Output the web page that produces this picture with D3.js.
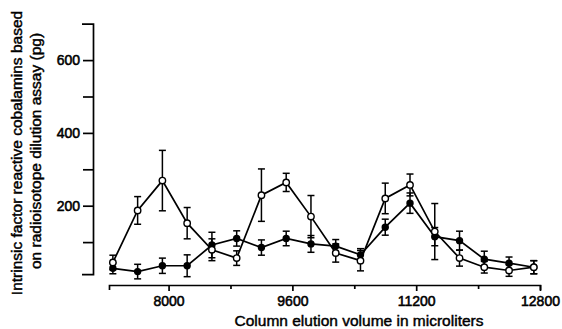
<!DOCTYPE html>
<html>
<head>
<meta charset="utf-8">
<script src="https://cdn.jsdelivr.net/npm/d3@7/dist/d3.min.js"></script>
<style>
  html, body { margin: 0; padding: 0; background: #fff; }
  svg { display: block; font-family: 'Liberation Sans', Arial, sans-serif; }
  .axis path, .axis line { stroke: #000; stroke-width: 1.7; }
  .axis text { font-size: 14px; fill: #000; stroke: #000; stroke-width: 0.55; }
  .label-text { font-size: 15.5px; fill: #000; stroke: #000; stroke-width: 0.45; }
</style>
</head>
<body>
<div id="chart"></div>
<script>
// elution volume (microliters) of each fraction
const volumes = [7280, 7600, 7920, 8240, 8560, 8880, 9200, 9520, 9840,
  10160, 10480, 10800, 11120, 11440, 11760, 12080, 12400, 12720];

// open circles
const openValues = [44, 187, 269, 152, 79, 56, 229, 264, 170,
  70, 49, 220, 257, 129, 56, 31, 22, 31];
const openErrors = [20, 38, 83, 43, 30, 20, 72, 25, 58,
  25, 28, 42, 30, 77, 22, 16, 16, 18];

// filled circles
const filledValues = [28, 19, 35, 35, 92, 110, 85, 110, 95,
  89, 65, 141, 207, 115, 104, 53, 42, 31];
const filledErrors = [15, 20, 21, 30, 35, 21, 21, 20, 23,
  18, 17, 22, 28, 25, 26, 22, 17, 18];

const xTicks = [8000, 8800, 9600, 10400, 11200, 12000, 12800];
const xTickLabels = ['8000', '', '9600', '', '11200', '', '12800'];
const yTicks = [100, 200, 300, 400, 500, 600];
const yTickLabels = ['', '200', '', '400', '', '600'];

const width = 562;
const height = 329;

const svg = d3.select('#chart')
  .append('svg')
  .attr('width', width)
  .attr('height', height)
  .attr('viewBox', `0 0 ${width} ${height}`);

// scales
const xScale = d3.scaleLinear().domain([7230, 12800]).range([109, 540]);
const yScale = d3.scaleLinear().domain([0, 700]).range([278.5, 23.7]);
const yAxisScale = d3.scaleLinear().domain([12, 700]).range([yScale(12), yScale(700)]);

// axes
const xAxis = d3.axisBottom(xScale)
  .tickValues(xTicks)
  .tickSize(6)
  .tickSizeOuter(5)
  .tickPadding(5)
  .tickFormat((d, i) => xTickLabels[i]);

const yAxis = d3.axisLeft(yAxisScale)
  .tickValues(yTicks)
  .tickSize(10)
  .tickSizeOuter(11)
  .tickPadding(3)
  .tickFormat((d, i) => yTickLabels[i]);

const xAxisEl = svg.append('g')
  .attr('class', 'x axis')
  .attr('transform', 'translate(0,285)')
  .call(xAxis);

xAxisEl.selectAll('.tick')
  .filter((d, i) => xTickLabels[i] === '')
  .select('line')
  .attr('y2', 4);

const yAxisEl = svg.append('g')
  .attr('class', 'y axis')
  .attr('transform', 'translate(93,0)')
  .call(yAxis);

// axis titles
svg.append('text')
  .attr('class', 'label-text')
  .attr('x', 359)
  .attr('y', 326)
  .style('text-anchor', 'middle')
  .text('Column elution volume in microliters');

svg.append('text')
  .attr('class', 'label-text')
  .attr('transform', 'translate(22,153) rotate(-90)')
  .style('text-anchor', 'middle')
  .text('Intrinsic factor reactive cobalamins based');

svg.append('text')
  .attr('class', 'label-text')
  .attr('transform', 'translate(41,151) rotate(-90)')
  .style('text-anchor', 'middle')
  .text('on radioisotope dilution assay (pg)');

// series
function plotSeries(values, errors, filled) {
  const data = volumes.map((v, i) => ({ x: v, y: values[i], e: errors[i] }));
  const g = svg.append('g').attr('class', 'series');

  const line = d3.line()
    .x(d => xScale(d.x))
    .y(d => yScale(d.y));

  g.append('path')
    .attr('d', line(data))
    .attr('fill', 'none')
    .attr('stroke', '#000')
    .attr('stroke-width', 1.7);

  const bars = g.selectAll('g.err')
    .data(data)
    .enter()
    .append('g')
    .attr('class', 'err')
    .attr('stroke', '#000')
    .attr('stroke-width', 1.5);

  bars.append('line')
    .attr('x1', d => xScale(d.x))
    .attr('x2', d => xScale(d.x))
    .attr('y1', d => yScale(d.y - d.e))
    .attr('y2', d => yScale(d.y + d.e));

  bars.append('line')
    .attr('x1', d => xScale(d.x) - 3.5)
    .attr('x2', d => xScale(d.x) + 3.5)
    .attr('y1', d => yScale(d.y + d.e))
    .attr('y2', d => yScale(d.y + d.e));

  bars.append('line')
    .attr('x1', d => xScale(d.x) - 3.5)
    .attr('x2', d => xScale(d.x) + 3.5)
    .attr('y1', d => yScale(d.y - d.e))
    .attr('y2', d => yScale(d.y - d.e));

  g.selectAll('circle')
    .data(data)
    .enter()
    .append('circle')
    .attr('cx', d => xScale(d.x))
    .attr('cy', d => yScale(d.y))
    .attr('r', filled ? 3 : 3.2)
    .attr('fill', filled ? '#000' : '#fff')
    .attr('stroke', '#000')
    .attr('stroke-width', 1.4);
}

plotSeries(filledValues, filledErrors, true);
plotSeries(openValues, openErrors, false);
</script>
</body>
</html>
